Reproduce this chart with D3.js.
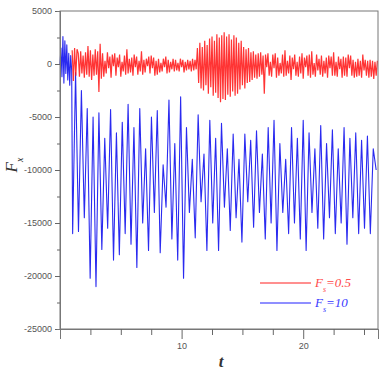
<!DOCTYPE html>
<html>
<head>
<meta charset="utf-8">
<script src="https://cdn.jsdelivr.net/npm/d3@7/dist/d3.min.js"></script>
<style>
  body { margin: 0; background: #fff; }
  svg { display: block; }
</style>
</head>
<body>
<svg id="chart" width="392" height="374"></svg>
<script>
// axis ticks
const yTicks = [5000, 0, -5000, -10000, -15000, -20000, -25000];
const yMinor = [2500, -2500, -7500, -12500, -17500, -22500];
const xTicks = [10, 20];
const xMinor = [2.5, 5, 7.5, 12.5, 15, 17.5, 22.5, 25];

// blue series (F_s = 10): short transient, then sampled every 0.24
const blueEarlyStart = 0, blueEarlyStep = 0.08;
const blueEarly = [0, 1500, -1200, 2600, -1800, 2200, -900, 1800, -1500, 1000, -2000, 800, -600];
const blueStart = 1.04, blueStep = 0.24;
const blueF = [
  -16000, -800, -15800, -2500, -14500, -4200, -20200, -5000, -21000, -4600,
  -17500, -7000, -15500, -4300, -18500, -6500, -18000, -5500, -16000, -3800,
  -17000, -6000, -19200, -4200, -15000, -8000, -17600, -5000, -14000, -4400,
  -17800, -9500, -13500, -3400, -16500, -7500, -18500, -3100, -20200, -6000,
  -14000, -9000, -16400, -4800, -13000, -8500, -17600, -5300, -15000, -7000,
  -17600, -5600, -13500, -8000, -15700, -6600, -14500, -9000, -16800, -6600,
  -13000, -7200, -15400, -6300, -14000, -8500, -16500, -6000, -15000, -5300,
  -17600, -7500, -14000, -9000, -16000, -6000, -15000, -7000, -16500, -5300,
  -17600, -6500, -14000, -8000, -15500, -5800, -16500, -7500, -14500, -6200,
  -16000, -8000, -15000, -6000, -17000, -7000, -14500, -6500, -16000, -7200,
  -15500, -6800, -16000, -8000, -10000
];

// red series (F_s = 0.5), sampled every 0.1
const redStart = 1.0, redStep = 0.1;
const redF = [
  1300, -1600, 1500, -1100, 1400,
  1000, -1200, 1200, -900, 800, -1300, 1100, -1000, 1700, -1200,
  1300, -1500, 900, -1100, 1400, -1000, 1200, -2650, 1900, -1400,
  1000, -1200, 300, -900, 1100, -400, 700, -1300, 900, -200,
  1000, -1100, 600, -300, 900, -1200, 200, -700, 800, -1000,
  1400, -900, 500, -800, 600, -1100, 900, -300, 700, -1000,
  300, -700, 1200, -1000, 400, -800, 500, -200, 700, -900,
  800, -400, 600, -1100, 300, -1000, 500, -800, 100, -700,
  500, -300, 700, -900, 400, -800, 200, -500, 500, -700,
  400, -600, 100, -700, 500, -300, 400, -800, 200, -600,
  400, -500, 300, -700, 500, -600, 400, -500, 1500, -1800,
  2000, -2300, 1600, -2500, 2200, -2000, 1800, -2800, 2400, -2200,
  2600, -3000, 2200, -2700, 2800, -3200, 2500, -3600, 2700, -3300,
  3000, -3400, 2600, -2900, 2800, -3100, 2300, -2600, 2700, -3000,
  2500, -2800, 2000, -2400, 2200, -2000, 1600, -2300, 1400, -1800,
  1500, -1700, 1100, -1500, 1200, -1300, 900, -1400, 1000, -1200,
  1100, -1000, 800, -2800, 900, -300, 1000, -1100, 200, -1200,
  900, -400, 1000, -1300, 600, -1100, 100, -900, 900, -1200,
  1300, -1100, 300, -900, 800, -1500, 600, -500, 900, -1100,
  200, -1200, 700, -900, 1000, -1400, 600, -300, 800, -1100,
  900, -1300, 1200, -1000, 100, -1200, 900, -600, 500, -1000,
  800, -1200, 300, -900, 600, -1300, 800, -400, 700, -1100,
  1100, -1100, 200, -1200, 700, -500, 500, -1300, 700, -1100,
  600, -1200, 900, -400, 800, -1100, 400, -1300, 200, -1200,
  500, -1100, 300, -1300, 900, -600, 400, -1100, 300, -1300,
  400, -1200, 300, -1400, 200, -1100, 300
];

const legendLabels = [
  { name: 'F', sub: 's', rest: '=0.5', color: '#ff4a4a', line: '#ff6a6a' },
  { name: 'F', sub: 's', rest: '=10', color: '#3a3aff', line: '#6a6aff' }
];

const padL = 60, padR = 378, padT = 11, padB = 329;

const x = d3.scaleLinear().domain([0, 26.15]).range([padL, padR]);
const y = d3.scaleLinear().domain([-25000, 5000]).range([padB, padT]);

const svg = d3.select('#chart');

// series points
const bluePts = blueEarly.map((v, i) => [blueEarlyStart + i * blueEarlyStep, v])
  .concat(blueF.map((v, i) => [blueStart + i * blueStep, v]));
const redPts = redF.map((v, i) => [redStart + i * redStep, v]);

const line = d3.line().x(d => x(d[0])).y(d => y(d[1]));

const plot = svg.append('g');
plot.append('path')
  .attr('d', line(bluePts))
  .attr('fill', 'none')
  .attr('stroke', '#2a2af0')
  .attr('stroke-width', 1.1)
  .attr('stroke-linejoin', 'round');
plot.append('path')
  .attr('d', line(redPts))
  .attr('fill', 'none')
  .attr('stroke', '#ff1010')
  .attr('stroke-width', 1.2)
  .attr('stroke-opacity', 0.85);

// frame
svg.append('rect')
  .attr('x', padL).attr('y', padT)
  .attr('width', padR - padL).attr('height', padB - padT)
  .attr('fill', 'none')
  .attr('stroke', '#777')
  .attr('stroke-width', 1);

// y axis
const yAxis = svg.append('g')
  .attr('transform', `translate(${padL},0)`)
  .call(d3.axisLeft(y).tickValues(yTicks).tickSize(5).tickPadding(3).tickFormat(d3.format('d')));
svg.append('g')
  .attr('transform', `translate(${padL},0)`)
  .call(d3.axisLeft(y).tickValues(yMinor).tickSize(3).tickFormat(''));

// x axis
svg.append('g')
  .attr('transform', `translate(0,${padB})`)
  .call(d3.axisBottom(x).tickValues(xTicks).tickSize(10).tickPadding(4));
svg.append('g')
  .attr('transform', `translate(0,${padB})`)
  .call(d3.axisBottom(x).tickValues(xMinor).tickSize(6).tickFormat(''));

svg.selectAll('.domain').attr('stroke', '#777');
svg.selectAll('.tick line').attr('stroke', '#666');
svg.selectAll('.tick text')
  .attr('fill', '#555')
  .style('font-family', 'Liberation Sans, Arial, sans-serif')
  .style('font-size', '9px');
yAxis.selectAll('.tick text').text(d => d < 0 ? '-' + Math.abs(d) : d);

// axis titles
svg.append('text')
  .attr('x', 221).attr('y', 367)
  .attr('text-anchor', 'middle')
  .style('font-family', 'Liberation Serif, serif')
  .style('font-style', 'italic')
  .style('font-weight', 'bold')
  .style('font-size', '17px')
  .attr('fill', '#333')
  .text('t');

const yTitle = svg.append('text')
  .attr('transform', 'translate(17,165) rotate(-90)')
  .attr('text-anchor', 'middle')
  .style('font-family', 'Liberation Serif, serif')
  .style('font-style', 'italic')
  .style('font-size', '17px')
  .attr('fill', '#333');
yTitle.append('tspan').text('F');
yTitle.append('tspan').attr('baseline-shift', 'sub').style('font-size', '10px').text('x');

// legend
const legend = svg.append('g');
legendLabels.forEach((d, i) => {
  const ly = 283 + i * 20;
  legend.append('line')
    .attr('x1', 260).attr('x2', 311)
    .attr('y1', ly).attr('y2', ly)
    .attr('stroke', d.line)
    .attr('stroke-width', 1.4);
  const t = legend.append('text')
    .attr('x', 315).attr('y', ly + 4)
    .style('font-family', 'Liberation Serif, serif')
    .style('font-style', 'italic')
    .style('font-size', '13px')
    .attr('fill', d.color);
  t.append('tspan').text(d.name);
  t.append('tspan').attr('baseline-shift', 'sub').style('font-size', '8px').text(d.sub);
  t.append('tspan').text(d.rest);
});
</script>
</body>
</html>
